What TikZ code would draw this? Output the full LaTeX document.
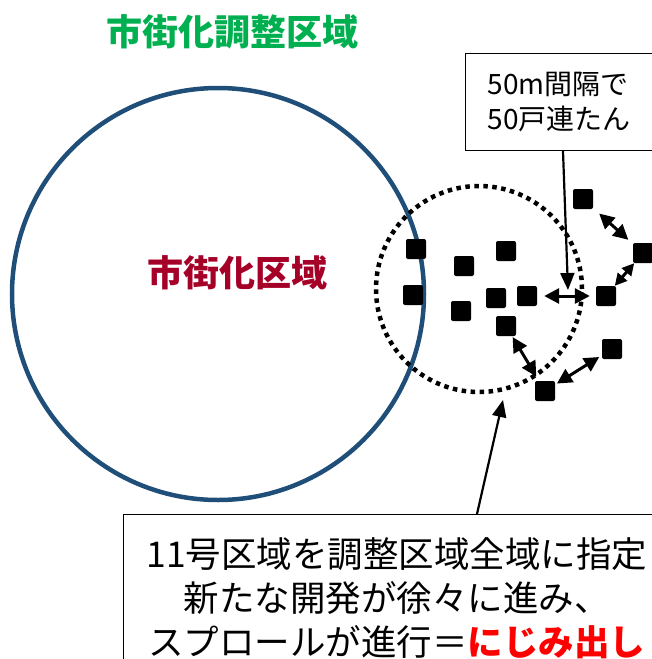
\documentclass[tikz,border=0pt]{standalone}
\usepackage{fontspec}
\setmainfont{Noto Sans CJK JP}
\usetikzlibrary{arrows.meta}
\definecolor{cblue}{HTML}{1F4E79}
\definecolor{cgreen}{HTML}{00B050}
\definecolor{cdred}{HTML}{A50028}
\definecolor{cred}{HTML}{FF0000}
\tikzset{
  x=1pt,y=1pt,
  house/.style={fill=black, rounded corners=2pt, minimum size=20pt, inner sep=0pt},
  dbl/.style={line width=3pt, {Triangle[length=15pt,width=15pt]}-{Triangle[length=15pt,width=15pt]}},
  dblsmall/.style={line width=3pt, {Triangle[length=12pt,width=12pt]}-{Triangle[length=12pt,width=12pt]}},
  callout/.style={line width=2.2pt, -{Triangle[length=17pt,width=14pt]}},
  boxstyle/.style={draw, line width=1.2pt, fill=white}
}
\begin{document}
\begin{tikzpicture}
\clip (0,0) rectangle (652,-659);
\useasboundingbox (0,0) rectangle (652,-659);
% circles
\draw[cblue, line width=4.5pt] (218,-294) circle (206);
\draw[line width=4.5pt, dash pattern=on 4.5pt off 4.5pt] (479,-289) circle (103);
% titles
\node[font=\fontsize{36}{40}\selectfont\bfseries, text=cgreen] (t1) at (232,-32) {市街化調整区域};
\node[font=\fontsize{36}{40}\selectfont\bfseries, text=cdred] (t2) at (237,-273) {市街化区域};
% houses
\node[house] (s1) at (416,-249) {};
\node[house] (s2) at (413,-295) {};
\node[house] (s3) at (464,-266) {};
\node[house] (s4) at (506,-251) {};
\node[house] (s5) at (461,-311) {};
\node[house] (s6) at (496,-298) {};
\node[house] (s7) at (527,-296) {};
\node[house] (s8) at (506,-326) {};
\node[house] (s9) at (583,-199) {};
\node[house] (s10) at (643,-253) {};
\node[house] (s11) at (606,-296) {};
\node[house] (s12) at (612,-349) {};
\node[house] (s13) at (545,-391) {};
% double arrows
\draw[dbl, shorten <=7pt, shorten >=6pt] (s7) -- (s11);
\draw[dbl, shorten <=8pt, shorten >=6pt] (s9) -- (s10);
\draw[dblsmall, shorten <=0pt, shorten >=0pt] (s11) -- (s10);
\draw[dbl, shorten <=1pt, shorten >=5pt] (s8) -- (s13);
\draw[dbl, shorten <=2pt, shorten >=3pt] (s13) -- (s12);
% top box
\node[boxstyle, anchor=north west, minimum width=240pt, minimum height=97pt, text width=200pt, inner xsep=22pt, align=left, font=\fontsize{28}{35}\selectfont] (tb) at (465,-53) {50m間隔で\\50戸連たん};
\coordinate (p1) at (568,-290);
\draw[callout] (tb.south west) ++(98,0) coordinate (q1) (q1) -- (p1);
% bottom box
\node[boxstyle, anchor=north west, minimum width=544pt, minimum height=168pt, text width=540pt, align=center, font=\fontsize{35.5}{44}\selectfont] (bb) at (123,-514) {11号区域を調整区域全域に指定\\新たな開発が徐々に進み、\\スプロールが進行＝\textcolor{cred}{\bfseries にじみ出し}};
\coordinate (p2) at (503,-400);
\draw[callout] (bb.north west) ++(354,0) coordinate (q2) (q2) -- (p2);
\end{tikzpicture}
\end{document}
